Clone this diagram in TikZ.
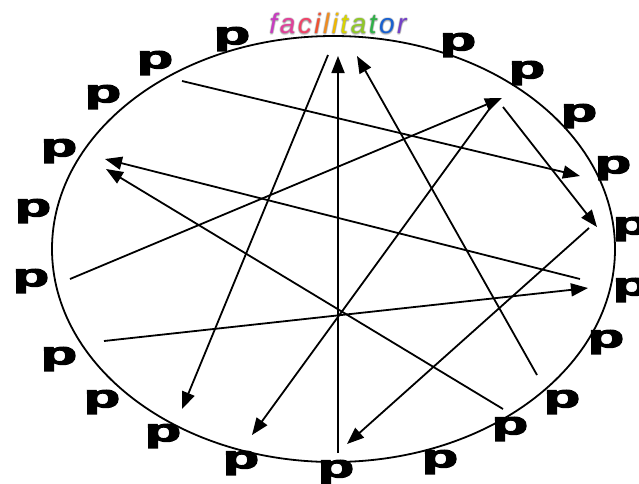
\documentclass[tikz,border=0pt]{standalone}
\usepackage{fontspec}
\usetikzlibrary{arrows.meta}
\newfontfamily\pfont[FakeBold=3.5]{Liberation Sans Bold}
\newfontfamily\facfont{Liberation Sans Italic}
\definecolor{cf}{HTML}{C83CC0}
\definecolor{ca}{HTML}{E0409A}
\definecolor{cc}{HTML}{F04468}
\definecolor{ci}{HTML}{F05030}
\definecolor{cl}{HTML}{F08C20}
\definecolor{cii}{HTML}{F0B800}
\definecolor{ct}{HTML}{D8D400}
\definecolor{caa}{HTML}{90C828}
\definecolor{ctt}{HTML}{30B048}
\definecolor{co}{HTML}{1860D0}
\definecolor{cr}{HTML}{7440C8}
\tikzset{
  pp/.style={font=\pfont\fontsize{32}{32}\selectfont, inner sep=0pt, text=black},
  conn/.style={line width=1.8pt, -{Triangle[length=17pt,width=13pt]}},
  fac/.style={font=\facfont\fontsize{28}{28}\selectfont, inner sep=0pt, anchor=base},
}
\newcommand{\pglyph}{\scalebox{1.85}[1]{p}}
\newcommand{\fl}[2]{{\color{#1}#2}\kern2.5pt}
\newcommand{\facword}[1]{\fl{#1}{f}\fl{#1}{a}\fl{#1}{c}\fl{#1}{i}\fl{#1}{l}\fl{#1}{i}\fl{#1}{t}\fl{#1}{a}\fl{#1}{t}\fl{#1}{o}{\color{#1}r}}
\begin{document}
\begin{tikzpicture}[x=1pt,y=-1pt]
\useasboundingbox (0,0) rectangle (639,483);
\fill[white] (0,0) rectangle (639,483);
% circle
\draw[line width=1.8pt] (333.5,249) ellipse [x radius=281.5pt, y radius=213pt];
% facilitator with soft glow
\foreach \dx/\dy in {-1/0,1/0,0/-1,0/1,0.7/1.8,-0.7/1.8,0/2.5}{
  \node[fac, opacity=0.22] at (338+\dx,33+\dy) {\facword{gray}};
}
\node[fac] (fac) at (338,33) {\fl{cf}{f}\fl{ca}{a}\fl{cc}{c}\fl{ci}{i}\fl{cl}{l}\fl{cii}{i}\fl{ct}{t}\fl{caa}{a}\fl{ctt}{t}\fl{co}{o}{\color{cr}r}};
% participants
\node[pp] (p1) at (232,39) {\pglyph};
\node[pp] (p2) at (155,63) {\pglyph};
\node[pp] (p3) at (103,97) {\pglyph};
\node[pp] (p4) at (59,151) {\pglyph};
\node[pp] (p5) at (33,211) {\pglyph};
\node[pp] (p6) at (31,281) {\pglyph};
\node[pp] (p7) at (59,359) {\pglyph};
\node[pp] (p8) at (102,402) {\pglyph};
\node[pp] (p9) at (163,436) {\pglyph};
\node[pp] (p10) at (241,463) {\pglyph};
\node[pp] (p11) at (336,472) {\pglyph};
\node[pp] (p12) at (440,462) {\pglyph};
\node[pp] (p13) at (510,429) {\pglyph};
\node[pp] (p14) at (562,402) {\pglyph};
\node[pp] (p15) at (606,342) {\pglyph};
\node[pp] (p16) at (631,290) {\pglyph};
\node[pp] (p17) at (631,229) {\pglyph};
\node[pp] (p18) at (613,168) {\pglyph};
\node[pp] (p19) at (579,116) {\pglyph};
\node[pp] (p20) at (527,73) {\pglyph};
\node[pp] (p21) at (458,45) {\pglyph};
% connector end points
\coordinate (a1s) at (182,81);   \coordinate (a1e) at (580,176);
\coordinate (a2s) at (70,279);   \coordinate (a2e) at (502,98);
\coordinate (a3s) at (503,107);  \coordinate (a3e) at (597,227);
\coordinate (a4s) at (580,279);  \coordinate (a4e) at (105,159);
\coordinate (a5s) at (503,409);  \coordinate (a5e) at (106,169);
\coordinate (a6s) at (104,341);  \coordinate (a6e) at (588,288);
\coordinate (a7s) at (589,228);  \coordinate (a7e) at (347,444);
\coordinate (a8s) at (537,375);  \coordinate (a8e) at (357,56);
\coordinate (a9s) at (338,453);  \coordinate (a9e) at (338,56);
\coordinate (a10s) at (328,55);  \coordinate (a10e) at (182,409);
\coordinate (a11s) at (493,104); \coordinate (a11e) at (252,435);
\draw[conn] (a1s) -- (a1e);
\draw[conn] (a2s) -- (a2e);
\draw[conn] (a3s) -- (a3e);
\draw[conn] (a4s) -- (a4e);
\draw[conn] (a5s) -- (a5e);
\draw[conn] (a6s) -- (a6e);
\draw[conn] (a7s) -- (a7e);
\draw[conn] (a8s) -- (a8e);
\draw[conn] (a9s) -- (a9e);
\draw[conn] (a10s) -- (a10e);
\draw[conn] (a11s) -- (a11e);
\end{tikzpicture}
\end{document}
